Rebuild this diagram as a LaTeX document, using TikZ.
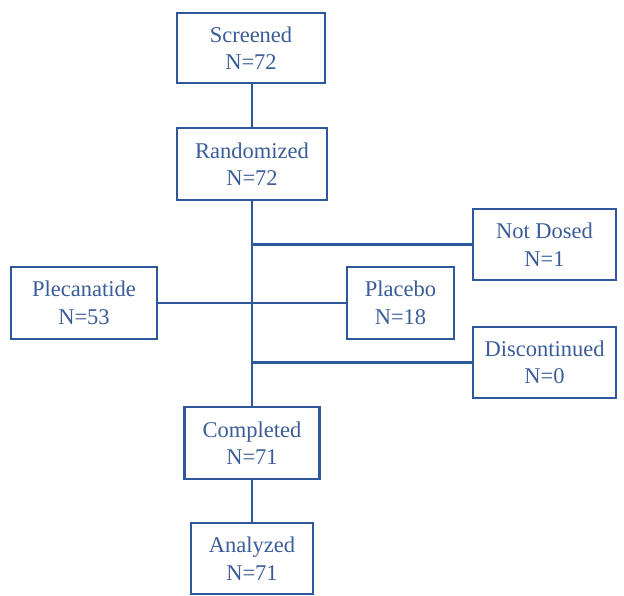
\documentclass[tikz,border=0pt]{standalone}
\usepackage{fontspec}
\setmainfont{Liberation Serif}
\definecolor{lineblue}{RGB}{47,88,156}
\definecolor{textblue}{RGB}{58,92,152}
\begin{document}
\begin{tikzpicture}[x=1pt,y=-1pt,
  box/.style={draw=lineblue,line width=2.6pt,rectangle,inner sep=0pt,align=center,
    text=textblue,font=\fontsize{22.5}{27.5}\selectfont},
  conn/.style={draw=lineblue,line width=2.3pt}]
\useasboundingbox (0,0) rectangle (624,596);
\node[box,minimum width=148pt,minimum height=70pt] (scr) at (251,48) {Screened\\N=72};
\node[box,minimum width=150pt,minimum height=72pt] (ran) at (252,164) {Randomized\\N=72};
\node[box,minimum width=143pt,minimum height=71pt] (nd) at (544.5,244.5) {Not Dosed\\N=1};
\node[box,minimum width=146pt,minimum height=72pt] (ple) at (84,303) {Plecanatide\\N=53};
\node[box,minimum width=107pt,minimum height=72pt] (pla) at (400.5,303) {Placebo\\N=18};
\node[box,minimum width=143pt,minimum height=71pt] (dis) at (544.5,362.5) {Discontinued\\N=0};
\node[box,minimum width=135pt,minimum height=72pt] (com) at (252,443) {Completed\\N=71};
\node[box,minimum width=122pt,minimum height=71pt] (ana) at (252,558.5) {Analyzed\\N=71};
\coordinate (t1) at (252,244.5);
\coordinate (t2) at (252,362.5);
\draw[conn] (scr.south -| ran.north) -- (ran.north);
\draw[conn] (ran.south) -- (com.north);
\draw[conn] (t1) -- (nd.west);
\draw[conn] (ple.east) -- (pla.west);
\draw[conn] (t2) -- (dis.west);
\draw[conn] (com.south) -- (ana.north);
\end{tikzpicture}
\end{document}
